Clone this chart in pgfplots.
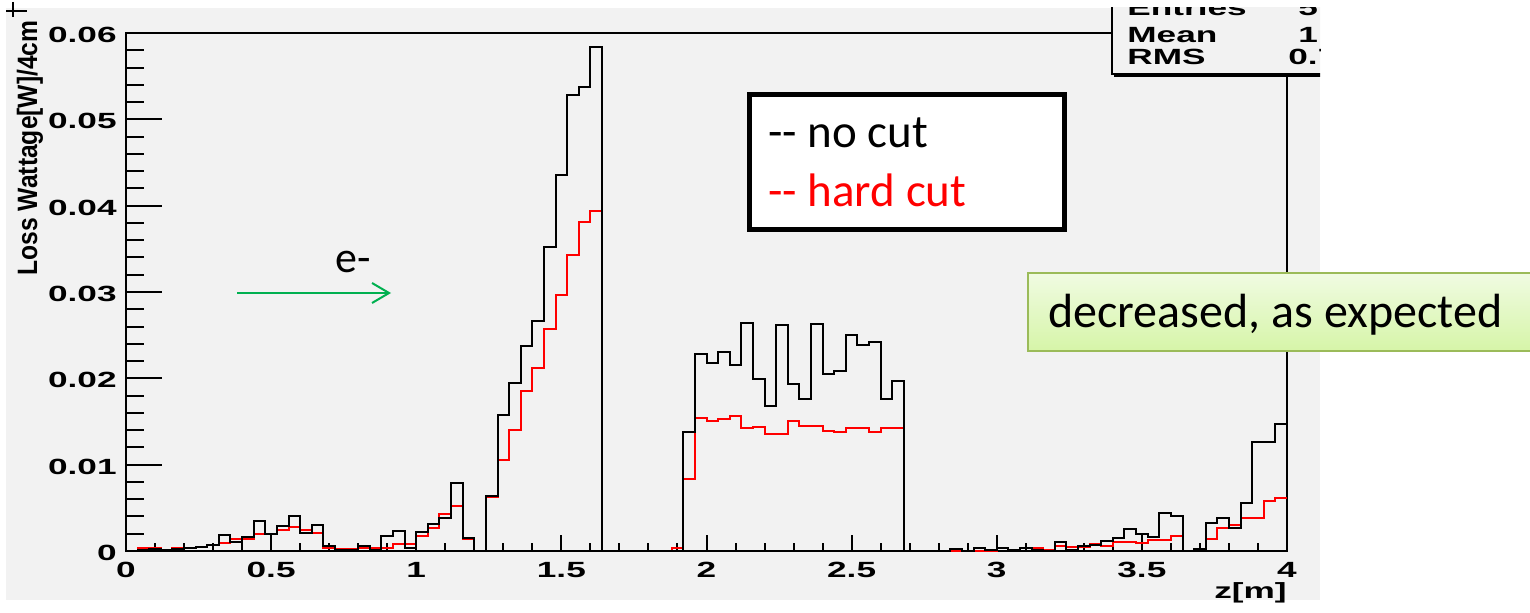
\documentclass[border=0pt]{standalone}
\usepackage{fontspec}
\usepackage{pgfplots}
\usepackage{pgfplotstable}
\pgfplotsset{compat=1.18}
\usetikzlibrary{arrows.meta}
\setmainfont{Liberation Sans}
\newfontfamily\rootfont[FakeStretch=1.6]{Liberation Sans}
\newfontfamily\ylabfont[FakeStretch=0.88]{Liberation Sans}
\newfontfamily\calfont{Carlito}
\definecolor{canvas}{RGB}{242,242,242}
\definecolor{arrowgreen}{RGB}{0,176,80}
\definecolor{boxborder}{RGB}{155,187,89}
\definecolor{boxtop}{RGB}{240,251,226}
\definecolor{boxbot}{RGB}{214,245,168}

\pgfplotstableread{
x y
0.00 0.0000
0.04 0.0001
0.08 0.0002
0.12 0.0001
0.16 0.0002
0.20 0.0003
0.24 0.0005
0.28 0.0007
0.32 0.0018
0.36 0.0010
0.40 0.0016
0.44 0.0035
0.48 0.0020
0.52 0.0029
0.56 0.0040
0.60 0.0021
0.64 0.0030
0.68 0.0006
0.72 0.0001
0.76 0.0001
0.80 0.0006
0.84 0.0001
0.88 0.0017
0.92 0.0023
0.96 0.0004
1.00 0.0022
1.04 0.0031
1.08 0.0038
1.12 0.0079
1.16 0.0015
1.20 0.0000
1.24 0.0064
1.28 0.0157
1.32 0.0195
1.36 0.0238
1.40 0.0267
1.44 0.0352
1.48 0.0436
1.52 0.0528
1.56 0.0537
1.60 0.0584
1.64 0
1.68 0
1.72 0
1.76 0
1.80 0
1.84 0
1.88 0
1.92 0.0138
1.96 0.0228
2.00 0.0218
2.04 0.0230
2.08 0.0215
2.12 0.0264
2.16 0.0199
2.20 0.0168
2.24 0.0262
2.28 0.0194
2.32 0.0176
2.36 0.0263
2.40 0.0205
2.44 0.0209
2.48 0.0250
2.52 0.0239
2.56 0.0242
2.60 0.0176
2.64 0.0197
2.68 0
2.72 0
2.76 0
2.80 0
2.84 0.0002
2.88 0
2.92 0.0004
2.96 0.0001
3.00 0.0003
3.04 0.0001
3.08 0.0003
3.12 0.0001
3.16 0
3.20 0.0010
3.24 0.0001
3.28 0.0006
3.32 0.0007
3.36 0.0012
3.40 0.0015
3.44 0.0025
3.48 0.0020
3.52 0.0016
3.56 0.0044
3.60 0.0040
3.64 0
3.68 0.0002
3.72 0.0032
3.76 0.0038
3.80 0.0027
3.84 0.0056
3.88 0.0126
3.92 0.0126
3.96 0.0147
4.00 0.0147
}\nocut

\pgfplotstableread{
x y
0.00 0
0.04 0.0003
0.08 0.0003
0.12 0.0001
0.16 0.0004
0.20 0.0003
0.24 0.0005
0.28 0.0007
0.32 0.0009
0.36 0.0014
0.40 0.0014
0.44 0.0020
0.48 0.0020
0.52 0.0024
0.56 0.0028
0.60 0.0024
0.64 0.0021
0.68 0.0004
0.72 0.0002
0.76 0.0002
0.80 0.0004
0.84 0.0004
0.88 0.0004
0.92 0.0008
0.96 0.0008
1.00 0.0017
1.04 0.0027
1.08 0.0043
1.12 0.0052
1.16 0.0014
1.20 0
1.24 0.0063
1.28 0.0105
1.32 0.0140
1.36 0.0185
1.40 0.0212
1.44 0.0257
1.48 0.0297
1.52 0.0343
1.56 0.0381
1.60 0.0394
1.64 0
1.68 0
1.72 0
1.76 0
1.80 0
1.84 0
1.88 0.0003
1.92 0.0083
1.96 0.0154
2.00 0.0151
2.04 0.0153
2.08 0.0156
2.12 0.0143
2.16 0.0144
2.20 0.0136
2.24 0.0136
2.28 0.0151
2.32 0.0145
2.36 0.0145
2.40 0.0139
2.44 0.0138
2.48 0.0143
2.52 0.0142
2.56 0.0138
2.60 0.0142
2.64 0.0142
2.68 0
2.72 0
2.76 0
2.80 0
2.84 0
2.88 0
2.92 0
2.96 0
3.00 0.0004
3.04 0.0001
3.08 0.0003
3.12 0.0003
3.16 0.0001
3.20 0.0006
3.24 0.0005
3.28 0.0005
3.32 0.0008
3.36 0.0006
3.40 0.0010
3.44 0.0011
3.48 0.0009
3.52 0.0013
3.56 0.0013
3.60 0.0017
3.64 0
3.68 0.0002
3.72 0.0014
3.76 0.0027
3.80 0.0030
3.84 0.0038
3.88 0.0038
3.92 0.0058
3.96 0.0061
4.00 0.0061
}\hardcut

\begin{document}
\begin{tikzpicture}
\begin{scope}[x=0.5pt,y=0.5pt]
  \fill[white] (0,0) rectangle (1530,612);
  \fill[canvas] (6,12) rectangle (1320,604);
  \draw[line width=0.6pt] (6,601) -- (27,601);
  \draw[line width=0.6pt] (13,610) -- (13,595);
\end{scope}

\begin{axis}[
  at={(63pt,30.5pt)}, anchor=south west,
  scale only axis, width=580.5pt, height=259pt,
  xmin=0, xmax=4, ymin=0, ymax=0.06,
  clip=false,
  scaled y ticks=false, scaled x ticks=false,
  axis line style={line width=1pt},
  xtick={0,0.5,1,1.5,2,2.5,3,3.5,4},
  ytick={0,0.01,0.02,0.03,0.04,0.05,0.06},
  xticklabels={0,0.5,1,1.5,2,2.5,3,3.5,4},
  yticklabels={0,0.01,0.02,0.03,0.04,0.05,0.06},
  minor x tick num=4, minor y tick num=4,
  tick align=inside, xtick pos=bottom, ytick pos=left,
  xtick style={/pgfplots/major tick length=8pt,/pgfplots/minor tick length=4pt, line width=1pt, black},
  ytick style={/pgfplots/major tick length=18pt,/pgfplots/minor tick length=9pt, line width=1pt, black},
  ticklabel style={font=\rootfont\bfseries\fontsize{11}{13}\selectfont, inner sep=0pt},
  xticklabel style={anchor=north, yshift=-5.5pt},
  yticklabel style={anchor=east, xshift=-4.5pt, yshift=-1pt},
  xlabel={z[m]}, ylabel={Loss Wattage[W]/4cm},
  xlabel style={font=\rootfont\bfseries\fontsize{11}{13}\selectfont, at={(axis description cs:1,-0.06)}, anchor=north east, inner sep=0pt},
  ylabel style={font=\ylabfont\bfseries\fontsize{14}{16}\selectfont, at={(axis description cs:-0.0827,1.025)}, anchor=east, inner sep=0pt},
]
\addplot[red, line width=1pt, const plot, mark=none] table[x=x,y=y] {\hardcut};
\addplot[black, line width=1pt, const plot, mark=none] table[x=x,y=y] {\nocut};
\end{axis}

\begin{scope}[x=0.5pt,y=0.5pt]
  % stats box
  \begin{scope}
    \clip (0,0) rectangle (1320,604);
    \fill[canvas] (1112,537) rectangle (1340,620);
    \draw[line width=1pt] (1112,620) -- (1112,538) -- (1340,538);
    \draw[line width=1pt] (1114,535.5) -- (1340,535.5);
    \node[anchor=base west, inner sep=0pt, font=\rootfont\bfseries\fontsize{11}{13}\selectfont] at (1127,596) {Entries};
    \node[anchor=base west, inner sep=0pt, font=\rootfont\bfseries\fontsize{11}{13}\selectfont] at (1127,569) {Mean};
    \node[anchor=base west, inner sep=0pt, font=\rootfont\bfseries\fontsize{11}{13}\selectfont] at (1127,547) {RMS};
    \node[anchor=base west, inner sep=0pt, font=\rootfont\bfseries\fontsize{11}{13}\selectfont] at (1298,596) {5};
    \node[anchor=base west, inner sep=0pt, font=\rootfont\bfseries\fontsize{11}{13}\selectfont] at (1298,569) {1};
    \node[anchor=base west, inner sep=0pt, font=\rootfont\bfseries\fontsize{11}{13}\selectfont] at (1288,547) {0.7};
  \end{scope}
  % legend box
  \draw[line width=2.5pt, fill=white] (749.5,517.5) rectangle (1064.5,382.5);
  \node[anchor=base west, inner sep=0pt, font=\calfont\fontsize{23.5}{28}\selectfont] at (768,465) {-{}- no cut};
  \node[anchor=base west, inner sep=0pt, font=\calfont\fontsize{23.5}{28}\selectfont, text=red] at (768,406) {-{}- hard cut};
  % e- arrow
  \node[anchor=base west, inner sep=0pt, font=\calfont\fontsize{22}{26}\selectfont] at (335,340) {e-};
  \draw[arrowgreen, line width=1pt, -{Straight Barb[length=8.5pt,width=10pt]}] (237,319) -- (391,319);
  % green note
  \shade[top color=boxtop, bottom color=boxbot] (1028,339) rectangle (1545,261);
  \draw[boxborder, line width=1pt] (1545,339) -- (1028,339) -- (1028,261) -- (1545,261);
  \node[anchor=base west, inner sep=0pt, font=\calfont\fontsize{24}{28}\selectfont] at (1048,285) {decreased, as expected};
  \pgfresetboundingbox
  \useasboundingbox (0,0) rectangle (1530,612);
\end{scope}
\end{tikzpicture}
\end{document}
